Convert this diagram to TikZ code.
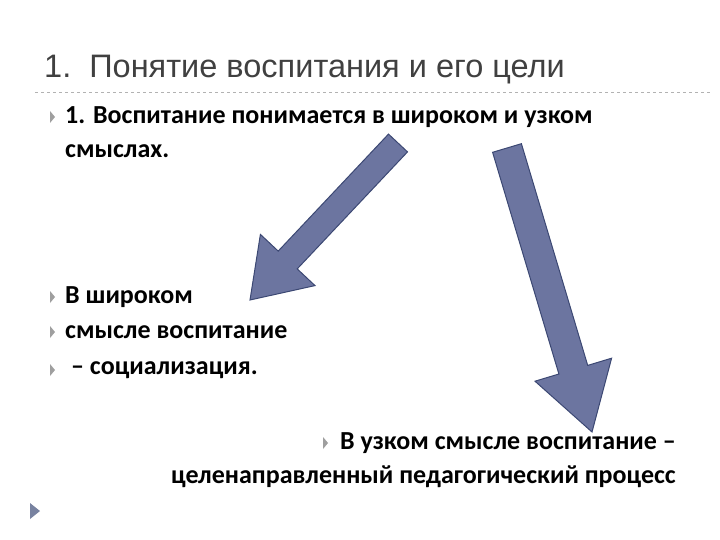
\documentclass[tikz,border=0pt]{standalone}
\usepackage{fontspec}
\setmainfont{Carlito}
\newfontfamily\titlefont{Liberation Sans}
\definecolor{arrfill}{RGB}{108,117,160}
\definecolor{arrdraw}{RGB}{60,72,115}
\definecolor{navtri}{RGB}{120,130,160}
\definecolor{titlecol}{RGB}{64,64,64}
\begin{document}
\begin{tikzpicture}[x=1pt,y=-1pt,
  txt/.style={anchor=west,font=\fontsize{26}{30}\selectfont\bfseries,inner sep=0pt},
  bul/.style={fill=gray!75,draw=none},
  arr/.style={fill=arrfill,draw=arrdraw,line width=1pt,line join=miter}]
\useasboundingbox (0,0) rectangle (720,540);
\node[anchor=west,inner sep=0pt,font=\titlefont\fontsize{32.5}{36}\selectfont,text=titlecol] (title) at (44,70) {1.\ \ Понятие воспитания и его цели};
\draw[gray!60,dashed,line width=0.5pt] (35,92) -- (712,92);
\foreach \y in {117,297,332,370}{\fill[bul] (50,\y-6) -- (55,\y) -- (50,\y+6) -- cycle;}
\fill[bul] (323,437) -- (328,443) -- (323,449) -- cycle;
\node[txt] (t1) at (65,117) {1. Воспитание понимается в широком и узком};
\node[txt] (t2) at (65,151) {смыслах.};
\node[txt] (t3) at (65,297) {В широком};
\node[txt] (t4) at (65,332) {смысле воспитание};
\node[txt] (t5) at (65,370) {\ – социализация.};
\node[txt,anchor=east] (t6) at (676,443) {В узком смысле воспитание –};
\node[txt,anchor=east] (t7) at (676,477) {целенаправленный педагогический процесс};
\fill[navtri] (30,503) -- (40,511) -- (30,519) -- cycle;
\draw[arr] (407.5,151.9) -- (297.2,268.9) -- (315,285.6) -- (250,300) -- (260.4,234.4) -- (278.2,251.1) -- (388.5,134.1) -- cycle;
\draw[arr] (492.6,152.3) -- (558.9,374) -- (535,381.2) -- (592,432) -- (611.6,358.2) -- (587.7,365.4) -- (521.4,143.7) -- cycle;
\end{tikzpicture}
\end{document}
